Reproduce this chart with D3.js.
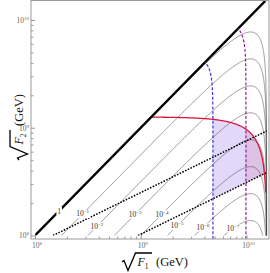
<!DOCTYPE html>
<html>
<head>
<meta charset="utf-8">
<script src="https://cdn.jsdelivr.net/npm/d3@7"></script>
<style>
  body { margin: 0; background: #fff; }
  svg { display: block; }
</style>
</head>
<body>
<div id="vis"></div>
<script>
// contour levels, as powers of ten
const levels = [0, -1, -2, -3, -4, -5, -6, -7];
// where each contour label sits (log10 of sqrt F1)
const labelAt = [8.227, 8.45, 8.586, 8.946, 9.201, 9.343, 9.589, 9.872];
// axis ticks
const majorTicks = [1e8, 1e9, 1e10];
const tickExp = ["8", "9", "10"];
const minorTicks = [2, 3, 4, 5, 6, 7, 8, 9].flatMap(m => [m * 1e8, m * 1e9]);

// log10 values
const cutoff = 10.19;        // where the contours turn over
const redLevel = 9.1;        // flat part of the red boundary
const redEnd = 8.4;          // where the red boundary stops
const blueEdge = 9.683;      // blue dashed line
const purpleEdge = 9.995;    // purple dashed line
const dottedStart = [8.17, 8.974];  // dotted lines at sqrt F2 = 1e8
const dottedSlope = 0.48;

const W = 270, H = 273;

const svg = d3.select("#vis").append("svg")
  .attr("width", W).attr("height", H);

const x = d3.scaleLog().domain([Math.pow(10, 7.962), Math.pow(10, 10.213)]).range([31, 269]);
const y = d3.scaleLog().domain([Math.pow(10, 7.9675), Math.pow(10, 10.181)]).range([239, 0.5]);

const line = d3.line()
  .x(d => x(Math.pow(10, d[0])))
  .y(d => y(Math.pow(10, Math.max(d[1], 7.9))));

// turnover factor near the cutoff
const turn = u => 0.5 * Math.log10(Math.max(1 - Math.pow(10, 2 * (u - cutoff)), 1e-12));
const contour = (u, lev) => u + lev / 4 + turn(u);
const redCurve = u => redLevel + turn(u);
const dotted = (u, i) => 8 + dottedSlope * (u - dottedStart[i]);
const edgeCurve = (v, e) => e + 0.25 * Math.log10(Math.max(1 - Math.pow(10, 4 * (v - e)), 1e-12));

const uSamples = d3.range(0, 1.00001, 0.002).map(t => 8 + (cutoff - 8) * (1 - Math.pow(1 - t, 3)));

// clip to the plot range
svg.append("clipPath").attr("id", "plot")
  .append("rect")
  .attr("x", x(1e8)).attr("y", 0.5)
  .attr("width", 269 - x(1e8)).attr("height", y(1e8) - 0.5);

// where the red boundary meets the lower dotted line
let lo = 9.5, hi = cutoff - 1e-9;
for (let i = 0; i < 60; i++) {
  const m = (lo + hi) / 2;
  if (redCurve(m) > dotted(m, 1)) lo = m; else hi = m;
}
const uMeet = lo;

const area = d3.area()
  .x(d => x(Math.pow(10, d)))
  .y0(d => y(Math.pow(10, dotted(d, 1))))
  .y1(d => y(Math.pow(10, redCurve(d))));

const regionSamples = e => {
  const u0 = edgeCurve(redLevel, e);
  return d3.range(0, 1.00001, 0.005).map(t => u0 + (uMeet - u0) * (1 - Math.pow(1 - t, 2)));
};

const plot = svg.append("g").attr("clip-path", "url(#plot)");

plot.append("path").datum(regionSamples(blueEdge))
  .attr("d", area).attr("fill", "#e2d9fa");
plot.append("path").datum(regionSamples(purpleEdge))
  .attr("d", area).attr("fill", "#dcc3e4");

// thin contours
plot.append("g").selectAll("path")
  .data(levels)
  .join("path")
  .attr("d", lev => line(uSamples.map(u => [u, contour(u, lev)])))
  .attr("fill", "none")
  .attr("stroke", "#4a4a4a")
  .attr("stroke-width", 0.55);

// dotted lines
plot.append("g").selectAll("path")
  .data(dottedStart)
  .join("path")
  .attr("d", (s, i) => line([[s, 8], [cutoff, dotted(cutoff, i)]]))
  .attr("fill", "none")
  .attr("stroke", "#000")
  .attr("stroke-width", 1.5)
  .attr("stroke-dasharray", "1.6,1.4");

// dashed edges, reaching down to the frame
const dashed = svg.append("g");
[[blueEdge, "#3f35d8"], [purpleEdge, "#99189f"]].forEach(([e, c]) => {
  const vTop = e - 0.25 * Math.log10(2);
  const pts = d3.range(0, 1.00001, 0.01)
    .map(t => 7.9675 + (vTop - 7.9675) * (1 - Math.pow(1 - t, 2)))
    .map(v => [edgeCurve(v, e), v]);
  dashed.append("path")
    .attr("d", d3.line().x(d => x(Math.pow(10, d[0]))).y(d => y(Math.pow(10, d[1])))(pts))
    .attr("fill", "none")
    .attr("stroke", c)
    .attr("stroke-width", 1.2)
    .attr("stroke-dasharray", "3,1.8");
});

// red boundary
const uRedEnd = cutoff + 0.5 * Math.log10(1 - Math.pow(10, 2 * (redEnd - redLevel)));
const redPts = d3.range(0, 1.00001, 0.004)
  .map(t => redLevel + (uRedEnd - redLevel) * (1 - Math.pow(1 - t, 3)))
  .map(u => [u, redCurve(u)]);
plot.append("path").attr("d", line(redPts))
  .attr("fill", "none")
  .attr("stroke", "#dc143c")
  .attr("stroke-width", 1.3);

// F2 = F1
plot.append("path").attr("d", line([[8, 8], [10.178, 10.178]]))
  .attr("fill", "none")
  .attr("stroke", "#000")
  .attr("stroke-width", 2.3);

// contour labels
const labels = svg.append("g")
  .attr("font-family", "Liberation Serif, Times New Roman, serif")
  .attr("fill", "#333");
levels.forEach((lev, i) => {
  const u = labelAt[i];
  const px = x(Math.pow(10, u)), py = y(Math.pow(10, contour(u, lev)));
  const g = labels.append("g");
  const t = g.append("text")
    .attr("x", px).attr("y", py + 2.5)
    .attr("text-anchor", "middle")
    .attr("font-size", 7.5);
  if (lev === 0) {
    t.text("1");
  } else {
    t.append("tspan").text("10");
    t.append("tspan").attr("dy", -3).attr("font-size", 5).text("\u2212" + (-lev));
  }
  const b = t.node().getBBox();
  g.insert("rect", "text")
    .attr("x", b.x - 0.8).attr("y", b.y + 0.5)
    .attr("width", b.width + 1.6).attr("height", b.height - 1)
    .attr("fill", "#fff");
});

// frame and ticks
svg.append("rect")
  .attr("x", 31).attr("y", 0.5)
  .attr("width", 238).attr("height", 238.5)
  .attr("fill", "none")
  .attr("stroke", "#9a9a9a")
  .attr("stroke-width", 1);

const tickStyle = g => {
  g.select(".domain").remove();
  g.selectAll(".tick line").attr("stroke", "#9a9a9a");
};
svg.append("g").attr("transform", "translate(0,239)")
  .call(d3.axisBottom(x).tickValues(minorTicks).tickSize(-2.5).tickFormat(""))
  .call(tickStyle);
svg.append("g").attr("transform", "translate(31,0)")
  .call(d3.axisLeft(y).tickValues(minorTicks).tickSize(-2.5).tickFormat(""))
  .call(tickStyle);

const xAxis = svg.append("g").attr("transform", "translate(0,239)")
  .call(d3.axisBottom(x).tickValues(majorTicks).tickSize(-4).tickFormat(""))
  .call(tickStyle);
const yAxis = svg.append("g").attr("transform", "translate(31,0)")
  .call(d3.axisLeft(y).tickValues(majorTicks).tickSize(-4).tickFormat(""))
  .call(tickStyle);

const tickLabel = (sel, anchor) => sel.each(function(d, i) {
  const t = d3.select(this).select("text")
    .attr("font-family", "Liberation Serif, Times New Roman, serif")
    .attr("font-size", 7.5)
    .attr("fill", "#666")
    .attr("text-anchor", anchor);
  t.append("tspan").text("10");
  t.append("tspan").attr("dy", -3).attr("font-size", 5).text(tickExp[i]);
});
xAxis.selectAll(".tick text").attr("y", 9).attr("dy", 0).attr("x", 1.5);
xAxis.selectAll(".tick").call(tickLabel, "middle");
yAxis.selectAll(".tick text").attr("x", -2).attr("dy", 2.5);
yAxis.selectAll(".tick").call(tickLabel, "end");

// axis titles: radical sign over F, then unit
const title = (g, sub) => {
  g.append("path")
    .attr("d", "M0,-4 L2,-5.5 L6,4.5 L13.5,-13 L30,-13")
    .attr("fill", "none")
    .attr("stroke", "#000")
    .attr("stroke-width", 1.3)
    .attr("stroke-linejoin", "miter");
  const t = g.append("text")
    .attr("font-family", "Liberation Serif, Times New Roman, serif")
    .attr("font-size", 12)
    .attr("fill", "#111");
  t.append("tspan").attr("x", 15.5).attr("font-style", "italic").text("F");
  t.append("tspan").attr("dy", 2.5).attr("font-size", 7.5).text(sub);
  t.append("tspan").attr("x", 34).attr("dy", -2.5).attr("font-size", 12.5).text("(GeV)");
};
title(svg.append("g").attr("transform", "translate(122,266)"), "1");
title(svg.append("g").attr("transform", "translate(23,160) rotate(-90)"), "2");
</script>
</body>
</html>
